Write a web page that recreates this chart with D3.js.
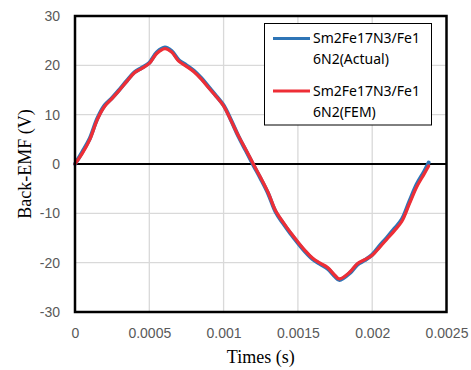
<!DOCTYPE html>
<html>
<head>
<meta charset="utf-8">
<script src="https://cdn.jsdelivr.net/npm/d3@7"></script>
<style>
    html, body { margin: 0; padding: 0; background: #fff; }
    svg { display: block; }
    .tick-label { font-family: "Liberation Sans", Arial, sans-serif; font-size: 14px; fill: #595959; }
    .axis-title { font-family: "Liberation Serif", "Times New Roman", serif; font-size: 18px; fill: #000; }
    .legend-text { font-family: "Noto Sans", sans-serif; font-size: 14px; fill: #000; }
</style>
</head>
<body>
<div id="chart"></div>
<script>
// values
var times = [0, 0.00005, 0.0001, 0.00015, 0.0002, 0.00025, 0.0003, 0.00035, 0.0004, 0.00045,
    0.0005, 0.00055, 0.000605, 0.00065, 0.0007, 0.00075, 0.0008, 0.00085, 0.0009, 0.00095,
    0.001, 0.00105, 0.0011, 0.00115, 0.0012, 0.00125, 0.0013, 0.00135, 0.0014, 0.00145,
    0.0015, 0.00155, 0.0016, 0.00165, 0.0017, 0.00175, 0.00178, 0.00185, 0.0019, 0.00195,
    0.002, 0.00205, 0.0021, 0.00215, 0.0022, 0.00225, 0.0023, 0.00235, 0.00238];

var actualEmf = [0, 2.5, 5.2, 9.2, 11.9, 13.4, 15.1, 16.9, 18.6, 19.5,
    20.5, 22.6, 23.6, 22.9, 21.0, 20.0, 18.9, 17.4, 15.6, 13.8,
    11.9, 8.9, 5.6, 2.7, -0.2, -3.0, -6.0, -9.7, -12.0, -14.1,
    -16.0, -17.8, -19.3, -20.3, -21.2, -22.8, -23.5, -22.1, -20.4, -19.5,
    -18.4, -16.6, -14.9, -13.1, -11.2, -7.6, -4.1, -1.5, 0.3];

var femEmf = [0, 2.2, 5.0, 9.0, 11.7, 13.3, 15.0, 16.8, 18.5, 19.4,
    20.4, 22.4, 23.4, 22.7, 20.8, 19.8, 18.7, 17.2, 15.4, 13.7,
    11.8, 8.8, 5.7, 2.9, 0.0, -2.8, -5.8, -9.5, -11.8, -13.9,
    -15.8, -17.6, -19.1, -20.1, -21.0, -22.6, -23.3, -21.9, -20.2, -19.4,
    -18.5, -16.9, -15.2, -13.5, -11.6, -8.1, -4.6, -2.0, -0.4];

var xTicks = [0, 0.0005, 0.001, 0.0015, 0.002, 0.0025];
var xTickLabels = ["0", "0.0005", "0.001", "0.0015", "0.002", "0.0025"];
var yTicks = [-30, -20, -10, 0, 10, 20, 30];
var yTickLabels = ["-30", "-20", "-10", "0", "10", "20", "30"];

var seriesNames = [["Sm2Fe17N3/Fe1", "6N2(Actual)"], ["Sm2Fe17N3/Fe1", "6N2(FEM)"]];
var seriesColors = ["#2e75b6", "#ee2e36"];

var width = 471, height = 370;
var plotLeft = 75, plotRight = 446.5, plotTop = 16, plotBottom = 312;

var svg = d3.select("#chart").append("svg")
    .attr("width", width)
    .attr("height", height);

var x = d3.scaleLinear().domain([0, 0.0025]).range([plotLeft, plotRight]);
var y = d3.scaleLinear().domain([-30, 30]).range([plotBottom, plotTop]);

// gridlines
svg.append("g")
    .selectAll("line.vgrid")
    .data(xTicks.slice(1, -1))
    .enter().append("line")
    .attr("x1", function (d) { return x(d); })
    .attr("x2", function (d) { return x(d); })
    .attr("y1", plotTop)
    .attr("y2", plotBottom)
    .attr("stroke", "#d9d9d9")
    .attr("stroke-width", 1.3);

svg.append("g")
    .selectAll("line.hgrid")
    .data(yTicks.filter(function (d) { return d !== 0 && d !== 30 && d !== -30; }))
    .enter().append("line")
    .attr("x1", plotLeft)
    .attr("x2", plotRight)
    .attr("y1", function (d) { return y(d); })
    .attr("y2", function (d) { return y(d); })
    .attr("stroke", "#d9d9d9")
    .attr("stroke-width", 1.3);

// axis labels
var xAxis = d3.axisBottom(x)
    .tickValues(xTicks)
    .tickSize(0)
    .tickPadding(16)
    .tickFormat(function (d, i) { return xTickLabels[i]; });

var yAxis = d3.axisLeft(y)
    .tickValues(yTicks)
    .tickSize(0)
    .tickPadding(15)
    .tickFormat(function (d, i) { return yTickLabels[i]; });

svg.append("g")
    .attr("transform", "translate(0," + plotBottom + ")")
    .call(xAxis)
    .call(function (g) { g.select(".domain").remove(); })
    .selectAll("text")
    .attr("class", "tick-label")
    .attr("fill", null);

svg.append("g")
    .attr("transform", "translate(" + plotLeft + ",0)")
    .call(yAxis)
    .call(function (g) { g.select(".domain").remove(); })
    .selectAll("text")
    .attr("class", "tick-label")
    .attr("fill", null);

// zero line
svg.append("line")
    .attr("x1", plotLeft)
    .attr("x2", plotRight)
    .attr("y1", y(0))
    .attr("y2", y(0))
    .attr("stroke", "#000")
    .attr("stroke-width", 2);

// series
var line = d3.line()
    .x(function (d) { return x(d[0]); })
    .y(function (d) { return y(d[1]); })
    .curve(d3.curveCatmullRom.alpha(0.5));

[actualEmf, femEmf].forEach(function (values, i) {
    svg.append("path")
        .datum(times.map(function (t, j) { return [t, values[j]]; }))
        .attr("d", line)
        .attr("fill", "none")
        .attr("stroke", seriesColors[i])
        .attr("stroke-width", i === 0 ? 4 : 3.2)
        .attr("stroke-linejoin", "round")
        .attr("stroke-linecap", "round");
});

// plot frame
svg.append("rect")
    .attr("x", plotLeft)
    .attr("y", plotTop)
    .attr("width", plotRight - plotLeft)
    .attr("height", plotBottom - plotTop)
    .attr("fill", "none")
    .attr("stroke", "#000")
    .attr("stroke-width", 2.5);

// axis titles
svg.append("text")
    .attr("class", "axis-title")
    .attr("x", (plotLeft + plotRight) / 2)
    .attr("y", 363)
    .attr("text-anchor", "middle")
    .text("Times (s)");

svg.append("text")
    .attr("class", "axis-title")
    .attr("transform", "translate(31," + y(0) + ") rotate(-90)")
    .attr("text-anchor", "middle")
    .text("Back-EMF (V)");

// legend
var legend = svg.append("g");
legend.append("rect")
    .attr("x", 264.5)
    .attr("y", 23.5)
    .attr("width", 167)
    .attr("height", 101.5)
    .attr("fill", "#fff")
    .attr("stroke", "#000")
    .attr("stroke-width", 1);

var legendRowY = [38.5, 91];
seriesNames.forEach(function (name, i) {
    var ly = legendRowY[i];
    legend.append("line")
        .attr("x1", 273)
        .attr("x2", 310)
        .attr("y1", ly)
        .attr("y2", ly)
        .attr("stroke", seriesColors[i])
        .attr("stroke-width", 3);
    legend.append("text")
        .attr("class", "legend-text")
        .attr("x", 313)
        .attr("y", ly + 4.5)
        .text(name[0]);
    legend.append("text")
        .attr("class", "legend-text")
        .attr("x", 313)
        .attr("y", ly + 25.5)
        .text(name[1]);
});
</script>
</body>
</html>
